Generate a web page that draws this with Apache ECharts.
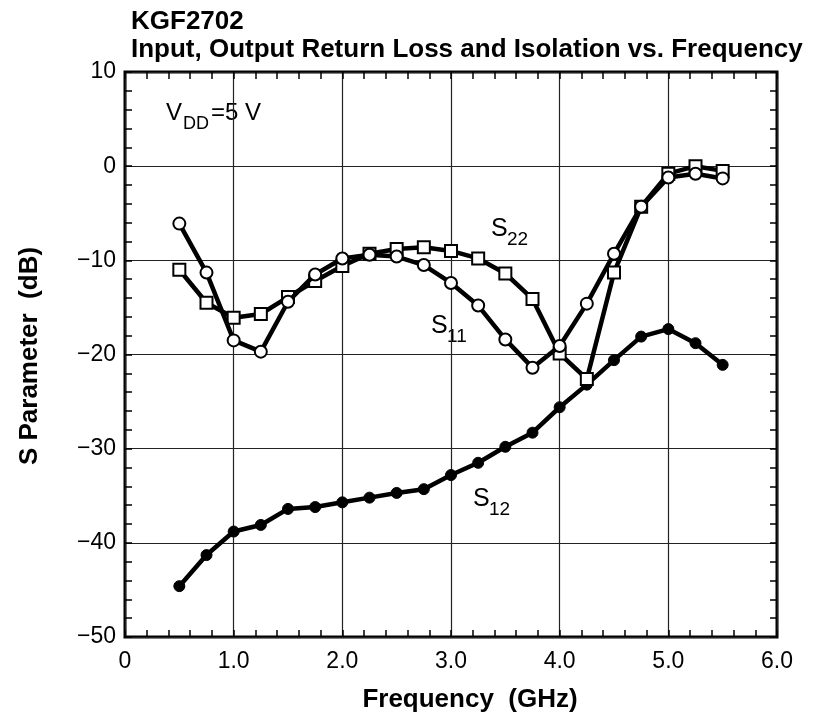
<!DOCTYPE html>
<html>
<head>
<meta charset="utf-8">
<script src="https://cdn.jsdelivr.net/npm/echarts@6/dist/echarts.min.js"></script>
<style>
html,body{margin:0;padding:0;background:#fff;}
#chart{width:816px;height:725px;}
</style>
</head>
<body>
<div id="chart"></div>
<script>
// frequency points, GHz
var freq = [0.5,0.75,1.0,1.25,1.5,1.75,2.0,2.25,2.5,2.75,3.0,3.25,3.5,3.75,4.0,4.25,4.5,4.75,5.0,5.25,5.5];
// S parameters, dB
var s11 = [-6.1,-11.3,-18.5,-19.7,-14.4,-11.5,-9.8,-9.4,-9.6,-10.5,-12.4,-14.8,-18.4,-21.4,-19.1,-14.6,-9.3,-4.3,-1.2,-0.8,-1.3];
var s22 = [-11.0,-14.5,-16.1,-15.7,-13.9,-12.2,-10.6,-9.3,-8.8,-8.6,-9.0,-9.8,-11.4,-14.1,-19.9,-22.6,-11.3,-4.3,-0.8,0.0,-0.5];
var s12 = [-44.6,-41.3,-38.8,-38.1,-36.4,-36.2,-35.7,-35.2,-34.7,-34.3,-32.8,-31.5,-29.8,-28.3,-25.6,-23.2,-20.6,-18.1,-17.3,-18.8,-21.1];

var FONT = '"Liberation Sans",Arial,sans-serif';

function pairs(ys){
  var out=[];
  for(var i=0;i<freq.length;i++){ out.push([freq[i], ys[i]]); }
  return out;
}

var chart = echarts.init(document.getElementById('chart'));

// ticks point into the plot on all four sides
var tick = {show:true, inside:true, length:7, lineStyle:{color:'#000', width:1.5}};
var minor = {show:true, splitNumber:5, length:7, lineStyle:{color:'#000', width:1.5}};

var option = {
  animation:false,
  backgroundColor:'#fff',
  title:[
    {text:'KGF2702', left:126, top:4, textStyle:{fontFamily:FONT, fontWeight:'bold', fontSize:26, color:'#000'}},
    {text:'Input, Output Return Loss and Isolation vs. Frequency', left:126, top:32, textStyle:{fontFamily:FONT, fontWeight:'bold', fontSize:26, color:'#000'}}
  ],
  grid:{left:125, top:72, width:652, height:565, show:true, borderColor:'#000', borderWidth:3, backgroundColor:'transparent'},
  xAxis:[{
    type:'value', min:0, max:6, interval:1, position:'bottom',
    axisLine:{show:false, onZero:false},
    axisTick:tick, minorTick:minor,
    splitLine:{show:true, lineStyle:{color:'#222', width:1.2}},
    axisLabel:{fontFamily:FONT, fontSize:23, color:'#000', margin:13,
      formatter:function(v){ return v===0 ? '0' : v.toFixed(1); }}
  },{
    type:'value', min:0, max:6, interval:1, position:'top',
    axisLine:{show:false, onZero:false}, axisLabel:{show:false}, splitLine:{show:false},
    axisTick:tick, minorTick:minor
  }],
  yAxis:[{
    type:'value', min:-50, max:10, interval:10, position:'left',
    axisLine:{show:false, onZero:false},
    axisTick:tick, minorTick:minor,
    splitLine:{show:true, lineStyle:{color:'#222', width:1.2}},
    axisLabel:{fontFamily:FONT, fontSize:23, color:'#000', margin:9,
      formatter:function(v){ return String(v).replace('-', '\u2212'); }}
  },{
    type:'value', min:-50, max:10, interval:10, position:'right',
    axisLine:{show:false, onZero:false}, axisLabel:{show:false}, splitLine:{show:false},
    axisTick:tick, minorTick:minor
  }],
  graphic:[
    {type:'text', x:470, y:700, style:{text:'Frequency  (GHz)', font:'bold 26px '+FONT, fill:'#000', align:'center', verticalAlign:'middle'}},
    {type:'text', x:30, y:356, rotation:Math.PI/2, style:{text:'S Parameter  (dB)', font:'bold 26px '+FONT, fill:'#000', align:'center', verticalAlign:'middle'}},
    // V_DD = 5 V
    {type:'text', x:166, y:101, style:{text:'V', font:'24px '+FONT, fill:'#000'}},
    {type:'text', x:183, y:115, style:{text:'DD', font:'18px '+FONT, fill:'#000'}},
    {type:'text', x:211, y:101, style:{text:'=5 V', font:'24px '+FONT, fill:'#000'}},
    // curve labels
    {type:'text', x:491, y:217, style:{text:'S', font:'25px '+FONT, fill:'#000'}},
    {type:'text', x:507, y:230, style:{text:'22', font:'19px '+FONT, fill:'#000'}},
    {type:'text', x:431, y:314, style:{text:'S', font:'25px '+FONT, fill:'#000'}},
    {type:'text', x:447, y:327, style:{text:'11', font:'19px '+FONT, fill:'#000'}},
    {type:'text', x:473, y:487, style:{text:'S', font:'25px '+FONT, fill:'#000'}},
    {type:'text', x:489, y:500, style:{text:'12', font:'19px '+FONT, fill:'#000'}}
  ],
  series:[
    {name:'S12', type:'line', data:pairs(s12), symbol:'circle', symbolSize:11, z:3,
      lineStyle:{color:'#000', width:4.5}, itemStyle:{color:'#000', borderColor:'#000', borderWidth:1}},
    {name:'S22', type:'line', data:pairs(s22), symbol:'rect', symbolSize:12, z:4,
      lineStyle:{color:'#000', width:4.5}, itemStyle:{color:'#fff', borderColor:'#000', borderWidth:2}},
    {name:'S11', type:'line', data:pairs(s11), symbol:'circle', symbolSize:12, z:5,
      lineStyle:{color:'#000', width:4.5}, itemStyle:{color:'#fff', borderColor:'#000', borderWidth:2}}
  ]
};
chart.setOption(option);
</script>
</body>
</html>
